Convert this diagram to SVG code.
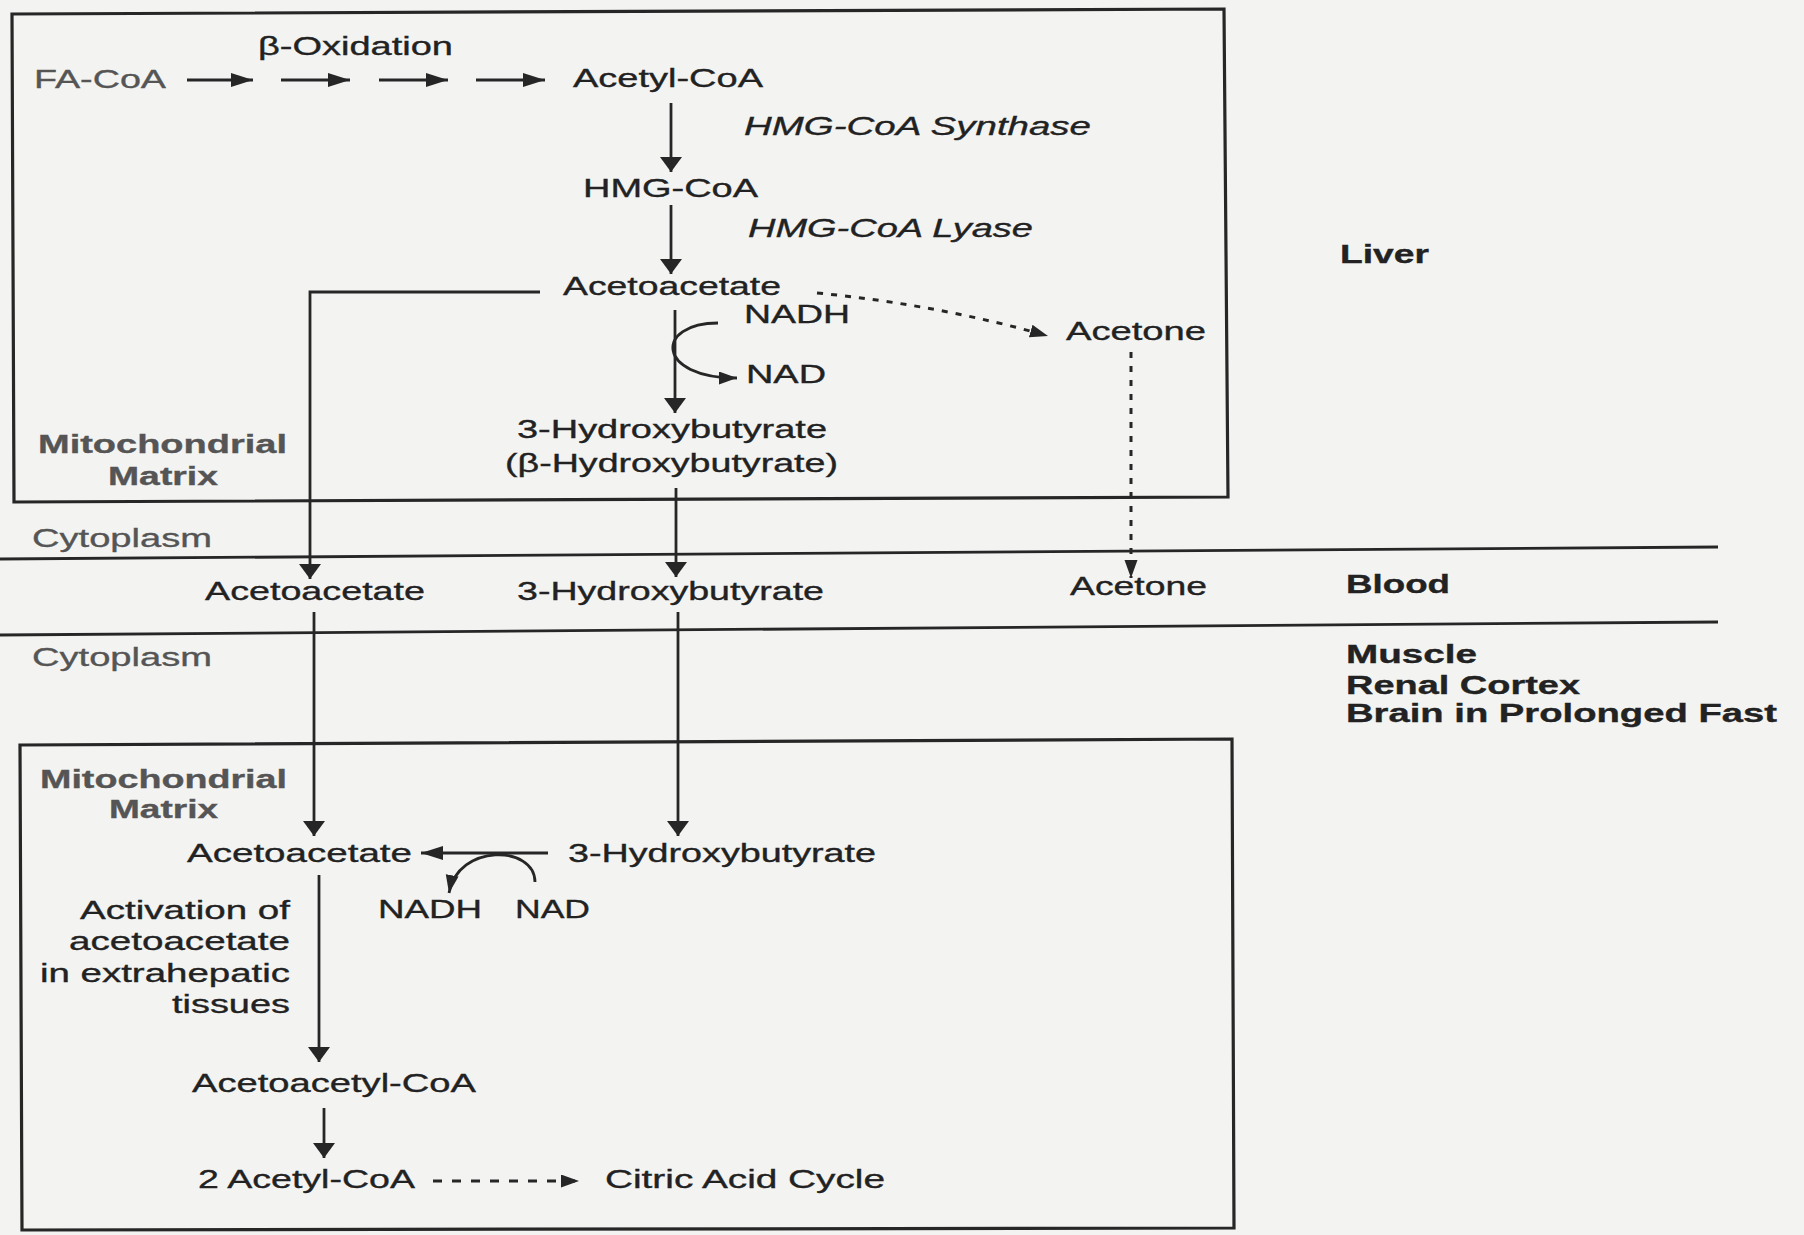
<svg xmlns="http://www.w3.org/2000/svg" width="1804" height="1235" viewBox="0 0 1804 1235">
<style>
text{font-family:"Liberation Sans",Arial,sans-serif;font-size:26px;fill:#222;stroke:#222;stroke-width:0.35}
.it{font-style:italic}
.b{font-weight:bold}
.g{fill:#555;stroke:#555}
.ln{stroke:#262626;stroke-width:2.8;fill:none}
.box{stroke:#262626;stroke-width:3.2;fill:none}
.dot{stroke:#262626;stroke-width:3;fill:none;stroke-dasharray:6 8}
.dash{stroke:#262626;stroke-width:2.8;fill:none;stroke-dasharray:9 10}
</style>
<defs>
<marker id="av" markerUnits="userSpaceOnUse" markerWidth="18" markerHeight="24" refX="15" refY="11" orient="auto"><path d="M0,0 L15,11 L0,22 z" fill="#262626"/></marker>
<marker id="ah" markerUnits="userSpaceOnUse" markerWidth="24" markerHeight="16" refX="22" refY="7" orient="auto"><path d="M0,0 L22,7 L0,14 z" fill="#262626"/></marker>
<marker id="as" markerUnits="userSpaceOnUse" markerWidth="20" markerHeight="14" refX="18" refY="6.5" orient="auto"><path d="M0,0 L18,6.5 L0,13 z" fill="#262626"/></marker>
</defs>
<rect x="0" y="0" width="1804" height="1235" fill="#f3f3f2"/>

<g id="compartments">
<polygon class="box" points="12,14 1224,9 1228,497 14,502"/>
<polygon class="box" points="20,745 1232,739 1234,1228 22,1230"/>
<line class="ln" x1="0" y1="559" x2="1718" y2="547"/>
<line class="ln" x1="0" y1="635" x2="1718" y2="622"/>
</g>

<g id="connectors">
<line class="ln" x1="187" y1="80" x2="253" y2="80" marker-end="url(#ah)"/>
<line class="ln" x1="281" y1="80" x2="350" y2="80" marker-end="url(#ah)"/>
<line class="ln" x1="379" y1="80" x2="448" y2="80" marker-end="url(#ah)"/>
<line class="ln" x1="476" y1="80" x2="545" y2="80" marker-end="url(#ah)"/>
<line class="ln" x1="671" y1="103" x2="671" y2="172" marker-end="url(#av)"/>
<line class="ln" x1="671" y1="205" x2="671" y2="274" marker-end="url(#av)"/>
<line class="ln" x1="675" y1="310" x2="675" y2="413" marker-end="url(#av)"/>
<path class="ln" d="M718,323 C655,323 655,378 737,378" marker-end="url(#as)"/>
<path class="dot" d="M817,293 Q940,305 1048,336" marker-end="url(#as)"/>
<polyline class="ln" points="540,292 310,292 310,579" marker-end="url(#av)"/>
<line class="ln" x1="676" y1="488" x2="676" y2="577" marker-end="url(#av)"/>
<line class="dot" x1="1131" y1="352" x2="1131" y2="578" marker-end="url(#as)"/>
<line class="ln" x1="314" y1="612" x2="314" y2="836" marker-end="url(#av)"/>
<line class="ln" x1="678" y1="612" x2="678" y2="836" marker-end="url(#av)"/>
<line class="ln" x1="548" y1="853" x2="421" y2="853" marker-end="url(#ah)"/>
<path class="ln" d="M535,882 C535,845 458,843 449,893" marker-end="url(#as)"/>
<line class="ln" x1="319" y1="875" x2="319" y2="1062" marker-end="url(#av)"/>
<line class="ln" x1="324" y1="1108" x2="324" y2="1158" marker-end="url(#av)"/>
<line class="dash" x1="433" y1="1181" x2="579" y2="1181" marker-end="url(#as)"/>
</g>

<g id="n-beta-ox"><text x="258" y="55" textLength="195" lengthAdjust="spacingAndGlyphs">β-Oxidation</text></g>
<g id="n-fa-coa"><text class="g" x="34" y="88" textLength="132" lengthAdjust="spacingAndGlyphs">FA-CoA</text></g>
<g id="n-acetyl-coa"><text x="573" y="87" textLength="190" lengthAdjust="spacingAndGlyphs">Acetyl-CoA</text></g>
<g id="n-hmg-synthase"><text class="it" x="744" y="135" textLength="347" lengthAdjust="spacingAndGlyphs">HMG-CoA Synthase</text></g>
<g id="n-hmg-coa"><text x="583" y="197" textLength="175" lengthAdjust="spacingAndGlyphs">HMG-CoA</text></g>
<g id="n-hmg-lyase"><text class="it" x="748" y="237" textLength="285" lengthAdjust="spacingAndGlyphs">HMG-CoA Lyase</text></g>
<g id="n-liver"><text class="b" x="1340" y="263" textLength="89" lengthAdjust="spacingAndGlyphs">Liver</text></g>
<g id="n-acetoacetate-liver"><text x="563" y="295" textLength="218" lengthAdjust="spacingAndGlyphs">Acetoacetate</text></g>
<g id="n-nadh-liver"><text x="744" y="323" textLength="106" lengthAdjust="spacingAndGlyphs">NADH</text></g>
<g id="n-acetone-liver"><text x="1066" y="340" textLength="140" lengthAdjust="spacingAndGlyphs">Acetone</text></g>
<g id="n-nad-liver"><text x="746" y="383" textLength="80" lengthAdjust="spacingAndGlyphs">NAD</text></g>
<g id="n-3hb-liver">
<text x="517" y="438" textLength="310" lengthAdjust="spacingAndGlyphs">3-Hydroxybutyrate</text>
<text x="505" y="472" textLength="333" lengthAdjust="spacingAndGlyphs">(β-Hydroxybutyrate)</text>
</g>
<g id="n-mito-upper">
<text class="b g" x="38" y="453" textLength="249" lengthAdjust="spacingAndGlyphs">Mitochondrial</text>
<text class="b g" x="108" y="485" textLength="110" lengthAdjust="spacingAndGlyphs">Matrix</text>
</g>
<g id="n-cyto-upper"><text class="g" x="32" y="547" textLength="180" lengthAdjust="spacingAndGlyphs">Cytoplasm</text></g>
<g id="n-acetoacetate-blood"><text x="205" y="600" textLength="220" lengthAdjust="spacingAndGlyphs">Acetoacetate</text></g>
<g id="n-3hb-blood"><text x="517" y="600" textLength="307" lengthAdjust="spacingAndGlyphs">3-Hydroxybutyrate</text></g>
<g id="n-acetone-blood"><text x="1070" y="595" textLength="137" lengthAdjust="spacingAndGlyphs">Acetone</text></g>
<g id="n-blood"><text class="b" x="1346" y="593" textLength="104" lengthAdjust="spacingAndGlyphs">Blood</text></g>
<g id="n-cyto-lower"><text class="g" x="32" y="666" textLength="180" lengthAdjust="spacingAndGlyphs">Cytoplasm</text></g>
<g id="n-tissues">
<text class="b" x="1346" y="663" textLength="131" lengthAdjust="spacingAndGlyphs">Muscle</text>
<text class="b" x="1346" y="694" textLength="234" lengthAdjust="spacingAndGlyphs">Renal Cortex</text>
<text class="b" x="1346" y="722" textLength="431" lengthAdjust="spacingAndGlyphs">Brain in Prolonged Fast</text>
</g>
<g id="n-mito-lower">
<text class="b g" x="40" y="788" textLength="247" lengthAdjust="spacingAndGlyphs">Mitochondrial</text>
<text class="b g" x="109" y="818" textLength="109" lengthAdjust="spacingAndGlyphs">Matrix</text>
</g>
<g id="n-acetoacetate-lower"><text x="187" y="862" textLength="225" lengthAdjust="spacingAndGlyphs">Acetoacetate</text></g>
<g id="n-3hb-lower"><text x="568" y="862" textLength="308" lengthAdjust="spacingAndGlyphs">3-Hydroxybutyrate</text></g>
<g id="n-nadh-lower"><text x="378" y="918" textLength="104" lengthAdjust="spacingAndGlyphs">NADH</text></g>
<g id="n-nad-lower"><text x="515" y="918" textLength="75" lengthAdjust="spacingAndGlyphs">NAD</text></g>
<g id="n-activation">
<text x="80" y="919" textLength="210" lengthAdjust="spacingAndGlyphs">Activation of</text>
<text x="69" y="950" textLength="221" lengthAdjust="spacingAndGlyphs">acetoacetate</text>
<text x="40" y="982" textLength="250" lengthAdjust="spacingAndGlyphs">in extrahepatic</text>
<text x="172" y="1013" textLength="118" lengthAdjust="spacingAndGlyphs">tissues</text>
</g>
<g id="n-acetoacetyl-coa"><text x="192" y="1092" textLength="284" lengthAdjust="spacingAndGlyphs">Acetoacetyl-CoA</text></g>
<g id="n-2-acetyl-coa"><text x="198" y="1188" textLength="217" lengthAdjust="spacingAndGlyphs">2 Acetyl-CoA</text></g>
<g id="n-citric"><text x="605" y="1188" textLength="280" lengthAdjust="spacingAndGlyphs">Citric Acid Cycle</text></g>
</svg>
